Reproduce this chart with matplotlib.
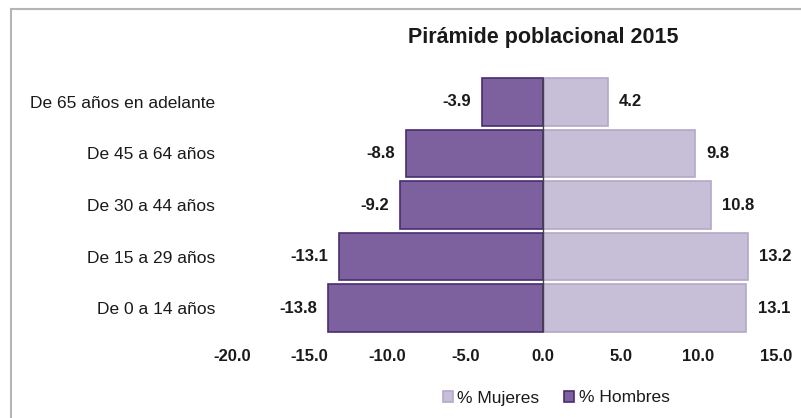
import matplotlib.pyplot as plt
from matplotlib.patches import Rectangle

grupos = ["De 0 a 14 años", "De 15 a 29 años", "De 30 a 44 años",
          "De 45 a 64 años", "De 65 años en adelante"]
hombres = [-13.8, -13.1, -9.2, -8.8, -3.9]
mujeres = [13.1, 13.2, 10.8, 9.8, 4.2]
ticks_x = [-20, -15, -10, -5, 0, 5, 10, 15]

plt.rcParams['font.family'] = ['Liberation Sans', 'DejaVu Sans']

fig = plt.figure(figsize=(8.01, 4.18), dpi=100)
ax = fig.add_axes([232 / 801, 84 / 418, 544 / 801, 258 / 418])

pos = list(range(len(grupos)))
ax.barh(pos, mujeres, height=0.92, color="#c7bfd7", edgecolor="#b3a9c8",
        linewidth=1.2, label="% Mujeres")
ax.barh(pos, hombres, height=0.92, color="#7d619f", edgecolor="#4a2d6e",
        linewidth=1.2, label="% Hombres")
ax.axvline(0, color="#444444", linewidth=1.0, ymin=0.01, ymax=0.99)

# etiquetas de valores
for y, v in zip(pos, hombres):
	ax.annotate(f"{v:.1f}", (v, y), xytext=(-8, 0), textcoords="offset points",
	            ha="right", va="center", fontsize=12, fontweight="bold", color="#1a1a1a")
for y, v in zip(pos, mujeres):
	ax.annotate(f"{v:.1f}", (v, y), xytext=(8, 0), textcoords="offset points",
	            ha="left", va="center", fontsize=12, fontweight="bold", color="#1a1a1a")

ax.set_xlim(-20, 15)
ax.set_ylim(-0.5, 4.5)
ax.set_xticks(ticks_x)
ax.set_xticklabels([f"{t:.1f}" for t in ticks_x], fontsize=12, fontweight="bold", color="#1a1a1a")
ax.set_yticks(pos)
ax.set_yticklabels(grupos, fontsize=12.5, fontweight="medium", color="#1a1a1a")
ax.tick_params(axis="both", length=0)
ax.tick_params(axis="x", pad=11)
ax.tick_params(axis="y", pad=12)
for s in ax.spines.values():
	s.set_visible(False)

fig.text(543 / 801, 1 - 37 / 418, "Pirámide poblacional 2015", ha="center", va="center",
         fontsize=15.5, fontweight="bold", color="#1a1a1a")

fig.legend(loc="center", bbox_to_anchor=(556 / 801, 1 - 398 / 418), ncol=2, frameon=False,
           fontsize=12.5, handlelength=0.6, handleheight=0.6, handletextpad=0.25,
           columnspacing=1.4, labelcolor="#1a1a1a")

# marco
fig.patches.append(Rectangle((11 / 801, -0.1), 1.2, 1 - 9 / 418 + 0.1, transform=fig.transFigure,
                             fill=False, edgecolor="#b5b5b5", linewidth=1.5))

fig.savefig("out.png", dpi=100)
